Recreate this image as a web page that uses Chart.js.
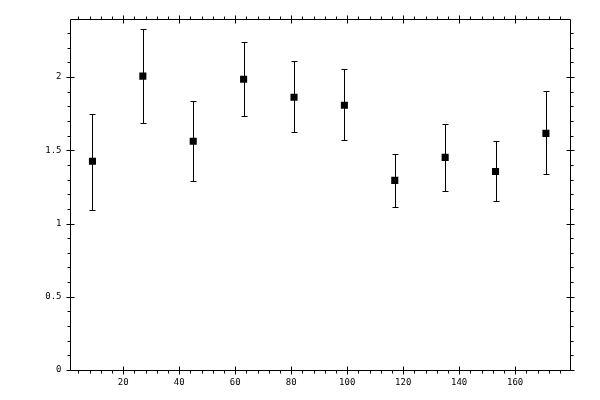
<!DOCTYPE html>
<html>
<head>
<meta charset="utf-8">
<script src="https://cdn.jsdelivr.net/npm/chart.js@4/dist/chart.umd.min.js"></script>
<style>
  html, body { margin: 0; padding: 0; background: #fff; }
  #wrap { width: 600px; height: 400px; }
</style>
</head>
<body>
<div id="wrap"><canvas id="myChart"></canvas></div>
<script>
// valeurs
const xVals = [9, 27, 45, 63, 81, 99, 117, 135, 153, 171];
const yVals = [1.425, 2.007, 1.562, 1.986, 1.863, 1.808, 1.295, 1.452, 1.356, 1.616];
const yHigh = [1.747, 2.329, 1.838, 2.240, 2.110, 2.055, 1.473, 1.678, 1.562, 1.906];
const yLow  = [1.096, 1.685, 1.288, 1.733, 1.623, 1.568, 1.114, 1.221, 1.151, 1.338];

const xTicks = [20, 40, 60, 80, 100, 120, 140, 160];
const yTicks = [0, 0.5, 1, 1.5, 2];

// construction des points
var points = [];
for (var i = 0; i < xVals.length; i++) {
  points.push({ x: xVals[i], y: yVals[i] });
}

// barres d'erreur (dessinées avant les carrés)
const errorBars = {
  id: 'errorBars',
  beforeDatasetsDraw(chart) {
    const ctx = chart.ctx;
    const sx = chart.scales.x, sy = chart.scales.y;
    ctx.save();
    ctx.strokeStyle = '#000';
    ctx.lineWidth = 1;
    for (var i = 0; i < xVals.length; i++) {
      var px = Math.round(sx.getPixelForValue(xVals[i])) + 0.5;
      var top = Math.round(sy.getPixelForValue(yHigh[i])) + 0.5;
      var bot = Math.round(sy.getPixelForValue(yLow[i])) + 0.5;
      ctx.beginPath();
      ctx.moveTo(px, top); ctx.lineTo(px, bot);
      ctx.moveTo(px - 3, top); ctx.lineTo(px + 3, top);
      ctx.moveTo(px - 3, bot); ctx.lineTo(px + 3, bot);
      ctx.stroke();
    }
    ctx.restore();
  }
};

// cadre et graduations sur les quatre côtés
const frameTicks = {
  id: 'frameTicks',
  afterDraw(chart) {
    const ctx = chart.ctx;
    const a = chart.chartArea;
    const sx = chart.scales.x, sy = chart.scales.y;
    const L = Math.round(a.left) + 0.5, R = Math.round(a.right) + 0.5;
    const T = Math.round(a.top) + 0.5, B = Math.round(a.bottom) + 0.5;
    ctx.save();
    ctx.strokeStyle = '#000';
    ctx.lineWidth = 1;
    ctx.beginPath();
    ctx.rect(L, T, R - L, B - T);
    // x
    for (var v = 4; v <= 176; v += 4) {
      var px = Math.round(sx.getPixelForValue(v)) + 0.5;
      var major = xTicks.indexOf(v) >= 0;
      ctx.moveTo(px, B - (major ? 4 : 0)); ctx.lineTo(px, B + (major ? 4 : 3));
      ctx.moveTo(px, T + (major ? 4 : 0)); ctx.lineTo(px, T - (major ? 4 : 3));
    }
    // y
    for (var k = 0; k <= 23; k++) {
      var val = k / 10;
      var py = Math.round(sy.getPixelForValue(val)) + 0.5;
      var majorY = (k % 5 === 0);
      ctx.moveTo(L + (majorY ? 4 : 0), py); ctx.lineTo(L - (majorY ? 4 : 3), py);
      ctx.moveTo(R - (majorY ? 4 : 0), py); ctx.lineTo(R + (majorY ? 4 : 3), py);
    }
    ctx.stroke();
    ctx.restore();
  }
};

new Chart(document.getElementById('myChart'), {
  type: 'scatter',
  data: {
    datasets: [{
      data: points,
      pointStyle: 'rect',
      pointRadius: 5,
      pointHoverRadius: 5,
      backgroundColor: '#000',
      borderColor: '#000',
      borderWidth: 0
    }]
  },
  options: {
    responsive: true,
    maintainAspectRatio: false,
    animation: false,
    layout: { padding: { left: 0, top: 19, right: 30, bottom: 0 } },
    plugins: { legend: { display: false }, tooltip: { enabled: false } },
    scales: {
      x: {
        type: 'linear',
        min: 0.8,
        max: 179.6,
        grid: { display: false, drawTicks: false, tickLength: 0 },
        border: { display: false },
        afterBuildTicks: function (scale) {
          scale.ticks = xTicks.map(function (v) { return { value: v }; });
        },
        afterFit: function (scale) { scale.height = 30; },
        ticks: {
          color: '#000',
          padding: 7,
          maxRotation: 0,
          autoSkip: false,
          font: { family: 'DejaVu Sans Mono', size: 9 },
          callback: function (v) { return String(v); }
        }
      },
      y: {
        type: 'linear',
        min: 0,
        max: 2.397,
        grid: { display: false, drawTicks: false, tickLength: 0 },
        border: { display: false },
        afterBuildTicks: function (scale) {
          scale.ticks = yTicks.map(function (v) { return { value: v }; });
        },
        afterFit: function (scale) { scale.width = 69.5; },
        ticks: {
          color: '#000',
          padding: 8,
          autoSkip: false,
          font: { family: 'DejaVu Sans Mono', size: 9 },
          callback: function (v) { return String(v); }
        }
      }
    }
  },
  plugins: [errorBars, frameTicks]
});
</script>
</body>
</html>
